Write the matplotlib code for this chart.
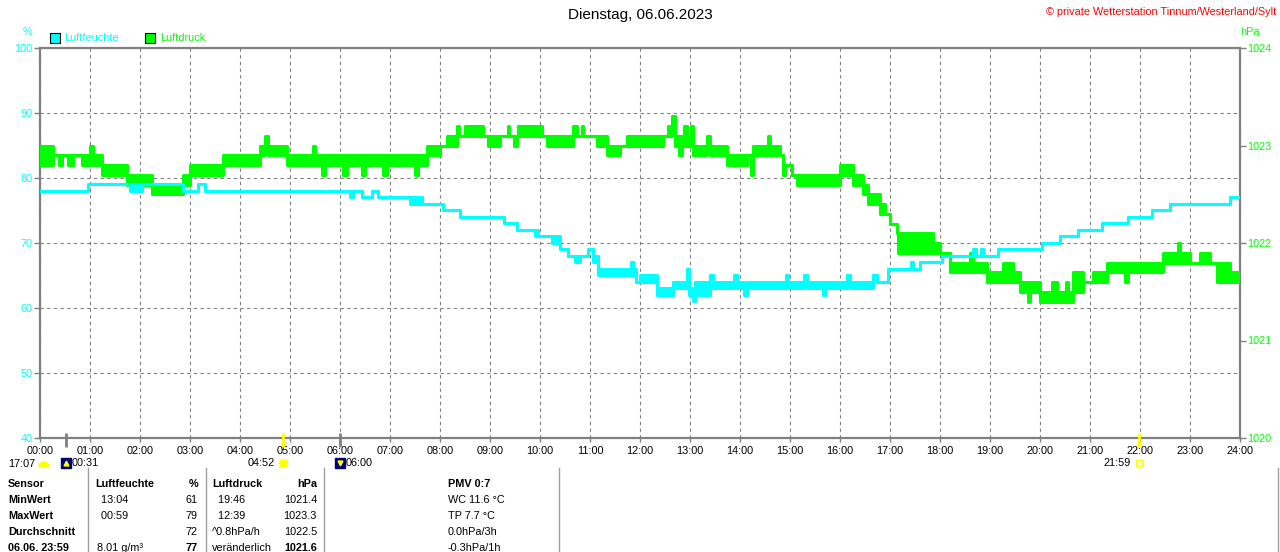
import matplotlib
matplotlib.use('Agg')
import matplotlib.pyplot as plt
import matplotlib.transforms as mtransforms
from matplotlib.patches import Rectangle, Wedge
from matplotlib.lines import Line2D

plt.rcParams['font.family'] = ['Liberation Sans', 'DejaVu Sans']

CYAN = '#00FFFF'
GREEN = '#00FF00'
GRAY = '#808080'

# Luftfeuchte (%) - Stufen: Startzeit, unterer und oberer Wert (Flackern)
hum_times = ["00:00", "00:58", "01:48", "02:02", "02:52", "03:10", "03:18", "06:12", "06:16", "06:26",
             "06:38", "06:45", "07:24", "07:38", "08:04", "08:24", "09:17", "09:32", "09:54", "09:58",
             "10:14", "10:24", "10:34", "10:42", "10:48", "10:58", "11:03", "11:10", "11:49", "11:51",
             "11:55", "12:00", "12:20", "12:40", "12:56", "12:59", "13:04", "13:06", "13:24", "13:28",
             "13:53", "13:56", "14:05", "14:08", "14:55", "14:58", "15:17", "15:20", "15:39", "15:42",
             "16:09", "16:12", "16:40", "16:44", "16:58", "17:25", "17:28", "17:36", "18:02", "18:40",
             "18:43", "18:49", "18:52", "19:10", "20:02", "20:24", "20:46", "21:14", "21:46", "22:14",
             "22:36", "23:48", "24:00"]
hum_low = [78, 79, 78, 79, 78, 79, 78, 77, 78, 77,
           78, 77, 76, 76, 75, 74, 73, 72, 71, 71,
           70, 69, 68, 67, 68, 69, 67, 65, 67, 65,
           64, 64, 62, 63, 66, 62, 61, 62, 65, 63,
           65, 63, 62, 63, 65, 63, 65, 63, 62, 63,
           65, 63, 65, 64, 66, 67, 66, 67, 68, 69,
           68, 69, 68, 69, 70, 71, 72, 73, 74, 75,
           76, 77, 77]
hum_high = [78, 79, 79, 79, 78, 79, 78, 78, 78, 77,
            78, 77, 77, 76, 75, 74, 73, 72, 72, 71,
            71, 69, 68, 68, 68, 69, 68, 66, 67, 66,
            64, 65, 63, 64, 66, 63, 62, 64, 65, 64,
            65, 64, 63, 64, 65, 64, 65, 64, 63, 64,
            65, 64, 65, 64, 66, 67, 66, 67, 68, 69,
            68, 69, 68, 69, 70, 71, 72, 73, 74, 75,
            76, 77, 77]

# Luftdruck (hPa)
p_times = ["00:00", "00:16", "00:23", "00:26", "00:33", "00:39", "00:50", "01:00", "01:04", "01:14",
           "01:44", "02:14", "02:52", "03:00", "03:40", "04:24", "04:30", "04:33", "04:56", "05:27",
           "05:30", "05:38", "05:42", "06:04", "06:08", "06:26", "06:30", "06:52", "06:56", "07:30",
           "07:34", "07:44", "08:00", "08:08", "08:20", "08:23", "08:30", "08:52", "08:58", "09:12",
           "09:21", "09:23", "09:29", "09:32", "09:34", "10:02", "10:08", "10:40", "10:44", "10:50",
           "10:52", "11:08", "11:20", "11:36", "11:44", "12:28", "12:34", "12:38", "12:42", "12:47",
           "12:50", "12:53", "12:56", "13:01", "13:04", "13:20", "13:24", "13:44", "14:08", "14:13",
           "14:16", "14:33", "14:36", "14:48", "14:52", "14:54", "15:02", "15:08", "16:00", "16:16",
           "16:28", "16:34", "16:48", "16:54", "17:00", "17:08", "17:10", "17:52", "18:00", "18:12",
           "18:36", "18:40", "18:56", "19:16", "19:28", "19:36", "19:45", "19:48", "20:00", "20:14",
           "20:20", "20:31", "20:34", "20:40", "20:52", "21:04", "21:20", "21:42", "21:46", "22:28",
           "22:45", "22:48", "23:00", "23:12", "23:24", "23:32", "23:48", "24:00"]
p_low = [1022.8, 1022.9, 1022.8, 1022.9, 1022.8, 1022.9, 1022.8, 1022.9, 1022.8, 1022.7,
         1022.6, 1022.5, 1022.6, 1022.7, 1022.8, 1022.9, 1023.0, 1022.9, 1022.8, 1022.8,
         1022.8, 1022.7, 1022.8, 1022.7, 1022.8, 1022.7, 1022.8, 1022.7, 1022.8, 1022.7,
         1022.8, 1022.9, 1023.0, 1023.0, 1023.1, 1023.1, 1023.1, 1023.1, 1023.0, 1023.1,
         1023.1, 1023.1, 1023.0, 1023.1, 1023.1, 1023.1, 1023.0, 1023.1, 1023.1, 1023.1,
         1023.1, 1023.0, 1022.9, 1023.0, 1023.0, 1023.1, 1023.1, 1023.2, 1023.0, 1022.9,
         1023.0, 1023.0, 1023.0, 1023.0, 1022.9, 1023.0, 1022.9, 1022.8, 1022.9, 1022.7,
         1022.9, 1022.9, 1022.9, 1022.9, 1022.7, 1022.8, 1022.7, 1022.6, 1022.7, 1022.6,
         1022.5, 1022.4, 1022.3, 1022.3, 1022.2, 1022.1, 1021.9, 1021.9, 1021.9, 1021.7,
         1021.7, 1021.7, 1021.6, 1021.6, 1021.6, 1021.5, 1021.4, 1021.5, 1021.4, 1021.4,
         1021.4, 1021.4, 1021.4, 1021.5, 1021.6, 1021.6, 1021.7, 1021.6, 1021.7, 1021.8,
         1021.8, 1021.8, 1021.8, 1021.8, 1021.8, 1021.6, 1021.6, 1021.6]
p_high = [1023.0, 1022.9, 1022.9, 1022.9, 1022.9, 1022.9, 1022.9, 1023.0, 1022.9, 1022.8,
          1022.7, 1022.6, 1022.7, 1022.8, 1022.9, 1023.0, 1023.1, 1023.0, 1022.9, 1023.0,
          1022.9, 1022.9, 1022.9, 1022.9, 1022.9, 1022.9, 1022.9, 1022.9, 1022.9, 1022.9,
          1022.9, 1023.0, 1023.0, 1023.1, 1023.2, 1023.1, 1023.2, 1023.1, 1023.1, 1023.1,
          1023.2, 1023.1, 1023.1, 1023.1, 1023.2, 1023.1, 1023.1, 1023.2, 1023.1, 1023.2,
          1023.1, 1023.1, 1023.0, 1023.0, 1023.1, 1023.1, 1023.2, 1023.3, 1023.1, 1023.1,
          1023.1, 1023.2, 1023.1, 1023.2, 1023.0, 1023.1, 1023.0, 1022.9, 1022.9, 1022.9,
          1023.0, 1023.1, 1023.0, 1022.9, 1022.8, 1022.8, 1022.7, 1022.7, 1022.8, 1022.7,
          1022.6, 1022.5, 1022.4, 1022.3, 1022.2, 1022.1, 1022.1, 1022.0, 1021.9, 1021.8,
          1021.9, 1021.8, 1021.7, 1021.8, 1021.7, 1021.6, 1021.6, 1021.6, 1021.5, 1021.6,
          1021.5, 1021.6, 1021.5, 1021.7, 1021.6, 1021.7, 1021.8, 1021.8, 1021.8, 1021.9,
          1022.0, 1021.9, 1021.8, 1021.9, 1021.8, 1021.8, 1021.7, 1021.7]

hour_labels = ["%02d:00" % h for h in range(25)]
hum_ticks = [40, 50, 60, 70, 80, 90, 100]
p_ticks = [1020, 1021, 1022, 1023, 1024]

# Sonne / Mond Ereignisse
event_times = ["00:31", "04:52", "06:00", "21:59"]
event_kind = ["moon_up", "sun", "moon_down", "sunset"]

table_rows = [
    ["Sensor", "Luftfeuchte", "%", "Luftdruck", "hPa", "PMV 0:7"],
    ["MinWert", "  13:04", "61", "  19:46", "1021.4", "WC 11.6 °C"],
    ["MaxWert", "  00:59", "79", "  12:39", "1023.3", "TP 7.7 °C"],
    ["Durchschnitt", "", "72", "^0.8hPa/h", "1022.5", "0.0hPa/3h"],
    ["06.06. 23:59", "8.01 g/m³", "77", "veränderlich", "1021.6", "-0.3hPa/1h"],
]


def hours(s):
    h, m = s.split(':')
    return int(h) + int(m) / 60.0


W, H = 1280, 552
fig = plt.figure(figsize=(W / 100, H / 100), dpi=100)
fig.patch.set_facecolor('white')


def fx(x):
    return x / W


def fy(y):
    return 1 - y / H


rect = [fx(40), fy(438), 1200 / W, 390 / H]
ax = fig.add_axes(rect)
ax.set_xlim(0, 24)
ax.set_ylim(40, 100)
ax.set_xticks(range(25))
ax.set_xticklabels(hour_labels)
ax.set_yticks(hum_ticks)
ax.set_yticklabels([str(v) for v in hum_ticks])
ax.tick_params(axis='x', length=3, width=1, color=GRAY, pad=3, labelsize=7.8, labelcolor='black')
ax.tick_params(axis='y', length=4, width=1, color=GRAY, pad=1.5, labelsize=7.8, labelcolor=CYAN)
for s in ax.spines.values():
    s.set_color(GRAY)
    s.set_linewidth(1.6)
ax.grid(True, color=GRAY, linestyle=(0, (3, 3)), linewidth=0.8)

axp = ax.twinx()
axp.set_ylim(1020, 1024)
axp.set_yticks(p_ticks)
axp.set_yticklabels([str(v) for v in p_ticks])
axp.tick_params(axis='y', length=4, width=1, color=GRAY, pad=1.5, labelsize=7.8, labelcolor=GREEN)
for s in axp.spines.values():
    s.set_visible(False)

# Flackern zwischen zwei Stufen als gefuelltes Band
pt = [hours(t) for t in p_times]
axp.fill_between(pt, p_low, p_high, step='post', color=GREEN, linewidth=0)
axp.step(pt, p_low, where='post', color=GREEN, lw=2.2)
axp.step(pt, p_high, where='post', color=GREEN, lw=2.2)

# Luftfeuchte oben drauf
axh = fig.add_axes(rect, sharex=ax, sharey=ax)
axh.set_zorder(axp.get_zorder() + 1)
axh.axis('off')
axh.patch.set_visible(False)
ht = [hours(t) for t in hum_times]
axh.fill_between(ht, hum_low, hum_high, step='post', color=CYAN, linewidth=0)
axh.step(ht, hum_low, where='post', color=CYAN, lw=2.2)
axh.step(ht, hum_high, where='post', color=CYAN, lw=2.2)

# Ereignisse unter der Achse
trans = mtransforms.blended_transform_factory(ax.transData, ax.transAxes)
y_tick_top = (438 - 433) / 390
y_tick_bot = (438 - 447) / 390
y_row = (438 - 463) / 390
for t, kind in zip(event_times, event_kind):
    x = hours(t)
    col = '#FFFF00' if kind in ('sun', 'sunset') else GRAY
    axh.plot([x, x], [y_tick_top, y_tick_bot], transform=trans, color=col, lw=2,
             clip_on=False, solid_capstyle='butt')
    if kind.startswith('moon'):
        axh.plot([x], [y_row], transform=trans, marker='s', ms=7, mfc='#00007B', mec='#00007B',
                 clip_on=False)
        axh.plot([x], [y_row], transform=trans, marker='^' if kind == 'moon_up' else 'v', ms=3.5,
                 mfc='#FFFF00', mec='#FFFF00', clip_on=False)
        axh.annotate(t, (x, y_row), xycoords=trans, xytext=(4.3, 0), textcoords='offset points',
                     ha='left', va='center', fontsize=7.8, annotation_clip=False)
    elif kind == 'sun':
        axh.plot([x], [y_row], transform=trans, marker=(8, 2, 0), ms=8, mec='#FFFF00', mew=0.8,
                 clip_on=False)
        axh.plot([x], [y_row], transform=trans, marker='o', ms=4.5, mfc='#FFFF00', mec='#FFFF00',
                 clip_on=False)
        axh.annotate(t, (x, y_row), xycoords=trans, xytext=(-6, 0), textcoords='offset points',
                     ha='right', va='center', fontsize=7.8, annotation_clip=False)
    else:
        axh.plot([x], [y_row], transform=trans, marker='s', ms=4, mfc='none', mec='#FFFF00',
                 mew=1, clip_on=False)
        axh.annotate(t, (x, y_row), xycoords=trans, xytext=(-6, 0), textcoords='offset points',
                     ha='right', va='center', fontsize=7.8, annotation_clip=False)

fig.text(fx(8), fy(464), "17:07", ha='left', va='center', fontsize=7.8)
fig.add_artist(Wedge((44, H - 467), 5, 0, 180, transform=mtransforms.IdentityTransform(),
                     facecolor='#FFFF00', edgecolor='#FFFF00'))

# Kopf
fig.text(0.5, fy(15), "Dienstag, 06.06.2023", ha='center', va='center', fontsize=11)
fig.text(fx(1276), fy(12), "© private Wetterstation Tinnum/Westerland/Sylt", ha='right',
         va='center', fontsize=7.8, color='#FF0000')
fig.text(fx(27), fy(32), "%", ha='center', va='center', fontsize=7.8, color=CYAN)
fig.text(fx(1240), fy(32), "hPa", ha='left', va='center', fontsize=7.8, color=GREEN)
fig.add_artist(Rectangle((fx(50), fy(43)), 10 / W, 10 / H, transform=fig.transFigure,
                         facecolor=CYAN, edgecolor='black', lw=0.8))
fig.text(fx(64), fy(38), "Luftfeuchte", ha='left', va='center', fontsize=7.8, color=CYAN)
fig.add_artist(Rectangle((fx(145), fy(43)), 10 / W, 10 / H, transform=fig.transFigure,
                         facecolor=GREEN, edgecolor='black', lw=0.8))
fig.text(fx(160), fy(38), "Luftdruck", ha='left', va='center', fontsize=7.8, color=GREEN)

# Tabelle
col_x = [8, 95, 198, 212, 317, 448]
col_ha = ['left', 'left', 'right', 'left', 'right', 'left']
row_y = [484, 500, 516, 532, 548]
for r, (row, y) in enumerate(zip(table_rows, row_y)):
    for c, txt in enumerate(row):
        bold = r == 0 or c == 0 or (r == 4 and c in (2, 4))
        x = col_x[c]
        if r == 4 and c == 1:
            x = 97
        fig.text(fx(x), fy(y), txt, ha=col_ha[c], va='center', fontsize=7.8,
                 fontweight='bold' if bold else 'normal')
for lx in [88, 206, 324, 559, 1278]:
    fig.add_artist(Line2D([fx(lx), fx(lx)], [fy(468), 0], transform=fig.transFigure,
                          color='#A0A0A0', lw=1))

fig.savefig('out.png', dpi=100)
